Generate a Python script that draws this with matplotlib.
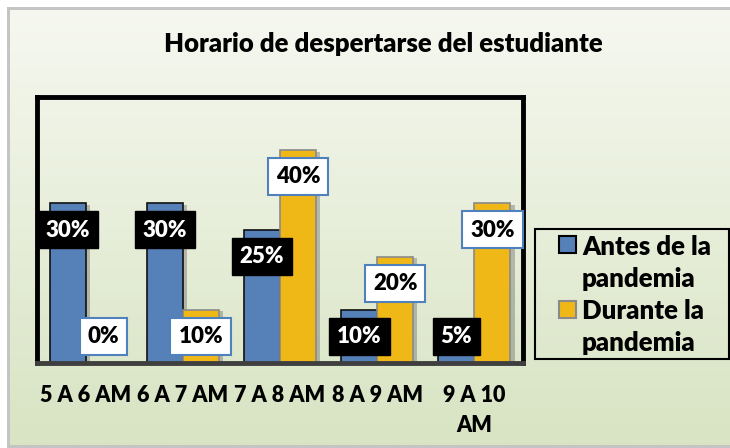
import matplotlib.pyplot as plt
import matplotlib.patheffects as pe
import numpy as np
from matplotlib.colors import LinearSegmentedColormap
from matplotlib.patches import Rectangle

categories = ['5 A 6 AM', '6 A 7 AM', '7 A 8 AM', '8 A 9 AM', '9 A 10\nAM']
antes = [30, 30, 25, 10, 5]
durante = [0, 10, 40, 20, 30]
series_names = ['Antes de la\npandemia', 'Durante la\npandemia']

BLUE = '#5581B8'
GOLD = '#F0B817'

plt.rcParams['font.family'] = ['Lato', 'DejaVu Sans']
WEIGHT = 'heavy'

W, H = 730, 448
fig = plt.figure(figsize=(W / 100, H / 100), dpi=100)
fig.patch.set_facecolor('white')

# chart area with gradient and shadow
fig.add_artist(Rectangle((7 / W, 1 - 448 / H), 726 / W, 441 / H, transform=fig.transFigure,
                         fc='#C4C4C4', ec='none', zorder=-2))
bg = fig.add_axes([10 / W, 1 - 445 / H, 720 / W, 435 / H], zorder=-1)
grad = np.linspace(0, 1, 256).reshape(-1, 1)
cmap = LinearSegmentedColormap.from_list('bg', ['#F6F8F0', '#D8E4C3'])
bg.imshow(grad, aspect='auto', cmap=cmap, extent=[0, 1, 0, 1])
bg.set_xlim(0, 1)
bg.set_ylim(0, 1)
bg.axis('off')

fig.text(383 / W, 1 - 44 / H, 'Horario de despertarse del estudiante',
         ha='center', va='center', fontsize=18.5, fontweight=WEIGHT)

ax = fig.add_axes([37 / W, 1 - 363 / H, 486 / W, 266 / H])
ax.set_facecolor('none')

x = np.arange(len(categories))
w = 0.37
shadow = [pe.SimplePatchShadow(offset=(3, -1), alpha=0.35, shadow_rgbFace='#555555'), pe.Normal()]
b1 = ax.bar(x - w / 2, antes, w, color=BLUE, edgecolor='#111111', linewidth=1.2)
b2 = ax.bar(x + w / 2, durante, w, color=GOLD, edgecolor='#8A8A8A', linewidth=1.2)
for bar in list(b1) + list(b2):
    bar.set_path_effects(shadow)

for xi, v in zip(x, antes):
    ax.text(xi - w / 2, max(v - 5, 4.9), f'{v}%', ha='center', va='center', color='white',
            fontsize=16, fontweight=WEIGHT, clip_on=False, zorder=5,
            bbox=dict(boxstyle='square,pad=0.36', fc='black', ec='black'))
for xi, v in zip(x, durante):
    ax.text(xi + w / 2, max(v - 5, 4.9), f'{v}%', ha='center', va='center', color='black',
            fontsize=16, fontweight=WEIGHT, clip_on=False, zorder=5,
            bbox=dict(boxstyle='square,pad=0.36', fc='white', ec='#4F81BD', lw=1.5))

ax.set_xlim(-0.5, len(categories) - 0.5)
ax.set_ylim(0, 50)
ax.set_yticks([])
ax.set_xticks(x)
ax.set_xticklabels(categories, fontsize=15.5, fontweight=WEIGHT, linespacing=1.5)
ax.tick_params(axis='x', length=0, pad=16)
for side in ['left', 'top', 'right']:
    ax.spines[side].set_color('black')
    ax.spines[side].set_linewidth(3.5)
ax.spines['bottom'].set_color('#3F3F3F')
ax.spines['bottom'].set_linewidth(3.5)

# legend box drawn by hand so the swatch sits on the first line
fig.add_artist(Rectangle((535 / W, 1 - 359 / H), 194 / W, 130 / H, transform=fig.transFigure,
                         fc='none', ec='black', lw=1.5))
for i, (name, col, ec) in enumerate(zip(series_names, [BLUE, GOLD], ['black', '#8A8A8A'])):
    y0 = 245 + i * 64
    fig.add_artist(Rectangle((559 / W, 1 - (y0 + 8.5) / H), 17 / W, 17 / H,
                             transform=fig.transFigure, fc=col, ec=ec, lw=1.5))
    for j, line in enumerate(name.split('\n')):
        fig.text(582 / W, 1 - (y0 + j * 32) / H, line, ha='left', va='center_baseline',
                 fontsize=18.5, fontweight=WEIGHT)

fig.savefig('out.png', dpi=100)
